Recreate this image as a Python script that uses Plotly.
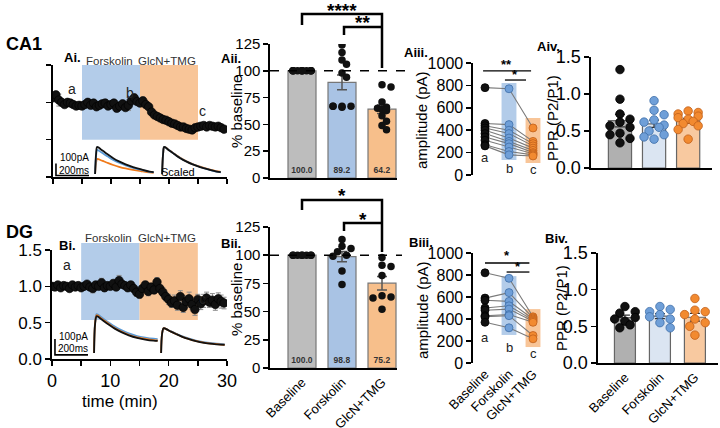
import numpy as np
import plotly.graph_objects as go

W, H = 720, 428
FONT = "Liberation Sans, Arial, sans-serif"


def X(px):
    return px / W


def Y(py):
    return 1 - py / H


# ---------------- data ----------------
conds = ["Baseline", "Forskolin", "GlcN+TMG"]
drug_names = ["Forskolin", "GlcN+TMG"]
drug_windows = [(5, 15), (15, 25)]

time_min = np.arange(0, 30, 0.5)
ai_norm = [1.06, 1.10, 1.03, 1.00, 0.97, 1.00, 0.99, 0.97, 0.95, 0.96,
           0.95, 0.97, 1.00, 0.96, 0.99, 0.94, 0.96, 0.98, 0.99, 0.95,
           0.97, 0.99, 0.92, 0.95, 0.98, 0.93, 0.96, 1.02, 1.06, 1.01,
           0.99, 1.02, 0.97, 0.94, 0.87, 0.83, 0.81, 0.79, 0.77, 0.76,
           0.74, 0.72, 0.71, 0.69, 0.67, 0.67, 0.65, 0.64, 0.63, 0.66,
           0.67, 0.68, 0.69, 0.67, 0.69, 0.68, 0.67, 0.68, 0.66, 0.64]
ai_sem = [0.03, 0.04, 0.08, 0.03, 0.03, 0.02, 0.03, 0.03, 0.02, 0.03,
          0.03, 0.02, 0.04, 0.03, 0.03, 0.02, 0.03, 0.04, 0.05, 0.03,
          0.03, 0.03, 0.04, 0.03, 0.03, 0.04, 0.07, 0.03, 0.05, 0.04,
          0.03, 0.05, 0.04, 0.03, 0.03, 0.03, 0.02, 0.03, 0.03, 0.02,
          0.03, 0.02, 0.03, 0.03, 0.02, 0.03, 0.02, 0.03, 0.03, 0.02,
          0.03, 0.02, 0.03, 0.02, 0.03, 0.03, 0.02, 0.03, 0.03, 0.03]
bi_norm = [1.00, 0.99, 1.02, 0.98, 1.01, 1.00, 0.97, 1.02, 0.99, 1.01,
           0.98, 1.00, 1.03, 0.99, 0.97, 1.02, 1.00, 1.05, 0.98, 1.01,
           1.00, 1.04, 0.99, 1.08, 1.03, 1.01, 0.98, 1.02, 0.97, 0.92,
           0.89, 0.97, 1.02, 0.93, 0.99, 0.95, 1.06, 0.97, 0.92, 0.86,
           0.82, 0.77, 0.80, 0.74, 0.86, 0.71, 0.79, 0.83, 0.75, 0.68,
           0.82, 0.76, 0.80, 0.84, 0.78, 0.81, 0.75, 0.83, 0.79, 0.77]
bi_sem = [0.02, 0.02, 0.03, 0.02, 0.03, 0.02, 0.03, 0.04, 0.02, 0.03,
          0.03, 0.04, 0.03, 0.03, 0.06, 0.04, 0.03, 0.06, 0.05, 0.04,
          0.03, 0.05, 0.04, 0.07, 0.05, 0.04, 0.05, 0.04, 0.05, 0.06,
          0.05, 0.04, 0.05, 0.06, 0.05, 0.05, 0.06, 0.05, 0.06, 0.06,
          0.07, 0.06, 0.08, 0.07, 0.08, 0.07, 0.08, 0.09, 0.07, 0.08,
          0.07, 0.08, 0.09, 0.08, 0.07, 0.09, 0.08, 0.08, 0.09, 0.08]

# example EPSC traces (ms, pA)
ai_trace_t = [0, 6, 12, 20, 35, 55, 80, 110, 145, 185, 230, 280, 330, 355]
ai_trace_base = [0, 170, 225, 222, 205, 185, 160, 132, 105, 80, 58, 38, 20, 15]
ai_trace_forsk = [0, 150, 200, 197, 183, 165, 143, 118, 94, 72, 52, 34, 18, 13]
ai_trace_glcn = [0, 95, 125, 124, 115, 104, 90, 75, 60, 46, 34, 23, 13, 10]
ai_scaled_peak = 225

bi_trace_t = [0, 6, 15, 25, 40, 60, 90, 125, 165, 210, 260, 310, 360, 385]
bi_trace_base = [0, 180, 230, 226, 214, 198, 176, 152, 130, 110, 94, 84, 77, 75]
bi_trace_forsk = [0, 190, 243, 239, 227, 211, 189, 165, 143, 122, 106, 96, 89, 87]
bi_trace_glcn = [0, 185, 236, 232, 219, 203, 181, 156, 134, 114, 98, 88, 80, 78]
bi_scaled_peak = 155

scale_bar_pA = 100
scale_bar_ms = 200

# % baseline
aii_pts = [[100, 100, 100, 100, 100, 100, 100, 100, 100, 100, 100],
           [124, 117, 110, 106, 98, 94, 67, 67, 67, 67, 66],
           [87, 85, 71, 66, 65, 64, 63, 58, 53, 49, 45]]
aii_mean = [100.0, 89.2, 64.2]
bii_pts = [[100, 100, 100, 100, 100, 100, 100, 100],
           [114, 108, 106, 103, 100, 99, 86, 74],
           [98, 91, 90, 82, 64, 63, 62, 52]]
bii_mean = [100.0, 98.8, 75.2]

# amplitude (pA), paired cells
aiii_amp = [[780, 460, 440, 420, 400, 370, 340, 310, 270, 260],
            [770, 450, 400, 370, 330, 300, 280, 250, 210, 180],
            [420, 300, 280, 260, 240, 220, 200, 190, 180, 170]]
biii_amp = [[820, 590, 570, 500, 480, 430, 420, 370],
            [770, 640, 560, 520, 490, 440, 430, 320],
            [420, 410, 400, 390, 380, 370, 250, 220]]

# PPR
aiv_ppr = [[1.33, 0.93, 0.73, 0.66, 0.62, 0.57, 0.55, 0.47, 0.45, 0.40, 0.34],
           [0.91, 0.78, 0.72, 0.65, 0.62, 0.58, 0.55, 0.50, 0.45, 0.42, 0.39],
           [0.77, 0.75, 0.73, 0.70, 0.68, 0.66, 0.63, 0.60, 0.57, 0.52, 0.39]]
biv_ppr = [[0.77, 0.70, 0.68, 0.62, 0.60, 0.57, 0.52, 0.48],
           [0.77, 0.73, 0.70, 0.66, 0.63, 0.60, 0.55, 0.48],
           [0.88, 0.72, 0.70, 0.66, 0.60, 0.55, 0.50, 0.38]]

# ---------------- styles ----------------
BLUE_BG = "#b3cce9"
ORANGE_BG = "#f8c598"
BAR2 = ["#bdbdbd", "#a9c3e4", "#f7bf8b"]
BAR4 = ["#b0b0b0", "#dbe5f2", "#f8c9a0"]
DOT_FILL = ["#111111", "#6f9fd8", "#f28a30"]
DOT_EDGE = ["#000000", "#3f6fa8", "#c0601a"]
TR_COL = ["#111111", "#5a9ad6", "#f07a1a"]


def sem(v):
    v = np.asarray(v, float)
    return float(np.std(v, ddof=1) / np.sqrt(len(v)))


def swarm(vals, px_per_unit, px_per_cat, dot, step, maxoff):
    cands = [0.0]
    k = 1
    while k * step <= maxoff + 1e-9:
        cands += [k * step, -k * step]
        k += 1
    placed = []
    offs = [0.0] * len(vals)
    for i in np.argsort(vals)[::-1]:
        yy = vals[i] * px_per_unit
        ch = None
        for c in cands:
            if all((c - px) ** 2 + (yy - py) ** 2 >= dot ** 2 for px, py in placed):
                ch = c
                break
        if ch is None:
            ch = cands[len(placed) % len(cands)]
        placed.append((ch, yy))
        offs[i] = ch / px_per_cat
    return offs


fig = go.Figure()

# ---------- Ai / Bi time courses ----------
for k, (vals, err) in enumerate([(ai_norm, ai_sem), (bi_norm, bi_sem)]):
    xa = "x" if k == 0 else "x2"
    ya = "y" if k == 0 else "y2"
    fig.add_trace(go.Scatter(
        x=time_min, y=vals, mode="markers", xaxis=xa, yaxis=ya,
        marker=dict(size=8.5, color="#111", line=dict(color="#000", width=0.6)),
        error_y=dict(type="data", array=err, color="#8c8c8c", thickness=1, width=2.5),
        showlegend=False, hoverinfo="skip"))

# insets with example traces
for k, (tt, tr, off2, speak) in enumerate([
        (ai_trace_t, [ai_trace_base, ai_trace_forsk, ai_trace_glcn], 661, ai_scaled_peak),
        (bi_trace_t, [bi_trace_base, bi_trace_forsk, bi_trace_glcn], 661, bi_scaled_peak)]):
    xa = "x9" if k == 0 else "x10"
    ya = "y9" if k == 0 else "y10"
    order = [2, 1, 0] if k == 0 else [1, 2, 0]
    t1 = [255 + t for t in tt]
    t2 = [off2 + t for t in tt]
    for j in order:
        fig.add_trace(go.Scatter(x=t1, y=tr[j], mode="lines", xaxis=xa, yaxis=ya,
                                 line=dict(color=TR_COL[j], width=1.8, shape="spline"),
                                 showlegend=False, hoverinfo="skip"))
    for j in order:
        pk = max(tr[j])
        fig.add_trace(go.Scatter(x=t2, y=[v * speak / pk for v in tr[j]], mode="lines",
                                 xaxis=xa, yaxis=ya,
                                 line=dict(color=TR_COL[j], width=1.8, shape="spline"),
                                 showlegend=False, hoverinfo="skip"))
    # scale bar
    fig.add_trace(go.Scatter(x=[18, 18, 18 + scale_bar_ms], y=[scale_bar_pA - 12, -12, -12],
                             mode="lines", xaxis=xa, yaxis=ya,
                             line=dict(color="black", width=1.6),
                             showlegend=False, hoverinfo="skip"))

# ---------- Aii / Bii bars ----------
for k, (pts, means) in enumerate([(aii_pts, aii_mean), (bii_pts, bii_mean)]):
    xa = "x3" if k == 0 else "x4"
    ya = "y3" if k == 0 else "y4"
    errs = [sem(p) if i > 0 else 0 for i, p in enumerate(pts)]
    fig.add_trace(go.Bar(
        x=[0, 1, 2], y=means, width=0.7, xaxis=xa, yaxis=ya,
        marker=dict(color=BAR2, line=dict(color="#777", width=1.2)),
        error_y=dict(type="data", array=errs, color="#555", thickness=1.5, width=5),
        texttemplate="<b>%{y:.1f}</b>", textposition="inside", insidetextanchor="start",
        textangle=0, textfont=dict(family=FONT, size=8.5, color="#333"),
        showlegend=False, hoverinfo="skip"))
    ppu = 134 / 125 if k == 0 else 141 / 125
    for i, p in enumerate(pts):
        offs = swarm(p, ppu, 40, 6.0, 4.5, 12)
        fig.add_trace(go.Scatter(
            x=[i + o for o in offs], y=p, mode="markers", xaxis=xa, yaxis=ya,
            marker=dict(size=7.5, color="#111"), showlegend=False, hoverinfo="skip"))

# ---------- Aiii / Biii paired amplitudes ----------
for k, amp in enumerate([aiii_amp, biii_amp]):
    xa = "x5" if k == 0 else "x6"
    ya = "y5" if k == 0 else "y6"
    lx, ly = [], []
    for c in range(len(amp[0])):
        lx += [0, 1, 2, None]
        ly += [amp[0][c], amp[1][c], amp[2][c], None]
    fig.add_trace(go.Scatter(x=lx, y=ly, mode="lines", xaxis=xa, yaxis=ya,
                             line=dict(color="#7a7a7a", width=1.1),
                             showlegend=False, hoverinfo="skip"))
    for i in range(3):
        fig.add_trace(go.Scatter(
            x=[i] * len(amp[i]), y=amp[i], mode="markers", xaxis=xa, yaxis=ya,
            marker=dict(size=8, color=DOT_FILL[i], line=dict(color=DOT_EDGE[i], width=0.8)),
            showlegend=False, hoverinfo="skip"))

# ---------- Aiv / Biv PPR ----------
for k, ppr in enumerate([aiv_ppr, biv_ppr]):
    xa = "x7" if k == 0 else "x8"
    ya = "y7" if k == 0 else "y8"
    means = [float(np.mean(p)) for p in ppr]
    errs = [sem(p) for p in ppr]
    fig.add_trace(go.Bar(
        x=[0, 1, 2], y=means, width=0.68 if k == 0 else 0.6, xaxis=xa, yaxis=ya,
        marker=dict(color=BAR4, line=dict(color="#666", width=1.2)),
        error_y=dict(type="data", array=errs, color="#333", thickness=1.3, width=5),
        showlegend=False, hoverinfo="skip"))
    ppu = 111 / 1.5 if k == 0 else 110 / 1.5
    for i, p in enumerate(ppr):
        offs = swarm(p, ppu, 34, 8.0, 5.0, 11)
        fig.add_trace(go.Scatter(
            x=[i + o for o in offs], y=p, mode="markers", xaxis=xa, yaxis=ya,
            marker=dict(size=8.5, color=DOT_FILL[i], line=dict(color=DOT_EDGE[i], width=0.8)),
            showlegend=False, hoverinfo="skip"))

# ---------------- axes ----------------


def ax(**kw):
    d = dict(showline=True, linecolor="black", linewidth=1.6, ticks="outside", ticklen=5,
             tickwidth=1.5, tickcolor="black", showgrid=False, zeroline=False,
             tickfont=dict(family=FONT, size=16, color="black"), fixedrange=True,
             automargin=False)
    d.update(kw)
    return d


def hid(**kw):
    d = dict(visible=False, fixedrange=True, automargin=False)
    d.update(kw)
    return d


tvals = list(range(0, 31, 5))
layout_axes = dict(
    xaxis=ax(domain=[X(53), X(227)], range=[0, 30], anchor="y", tickvals=tvals,
             showticklabels=False),
    yaxis=ax(domain=[Y(177), Y(65)], range=[0, 1.5], anchor="x",
             tickvals=[0, 0.5, 1, 1.5], showticklabels=False),
    xaxis2=ax(domain=[X(52), X(227)], range=[0, 30], anchor="y2", tickvals=tvals,
              ticktext=["0", "", "10", "", "20", "", "30"], tickfont=dict(family=FONT, size=18)),
    yaxis2=ax(domain=[Y(359), Y(250)], range=[0, 1.5], anchor="x2",
              tickvals=[0, 0.5, 1, 1.5], ticktext=["0.0", "0.5", "1.0", "1.5"],
              tickfont=dict(family=FONT, size=17)),
    xaxis3=ax(domain=[X(270), X(397)], range=[-0.8, 2.375], anchor="y3",
              showticklabels=False, ticks=""),
    yaxis3=ax(domain=[Y(178), Y(44)], range=[0, 125], anchor="x3",
              tickvals=[0, 25, 50, 75, 100, 125], tickfont=dict(family=FONT, size=15)),
    xaxis4=ax(domain=[X(270), X(397)], range=[-0.8, 2.375], anchor="y4",
              tickvals=[0, 1, 2], ticktext=conds, tickangle=-45, ticks="",
              tickfont=dict(family=FONT, size=13)),
    yaxis4=ax(domain=[Y(368), Y(227)], range=[0, 125], anchor="x4",
              tickvals=[0, 25, 50, 75, 100, 125], tickfont=dict(family=FONT, size=15)),
    xaxis5=ax(domain=[X(473), X(545)], range=[-0.5, 2.5], anchor="y5",
              showline=False, ticks="", showticklabels=False),
    yaxis5=ax(domain=[Y(175), Y(63)], range=[0, 1000], anchor="x5", dtick=200,
              tickfont=dict(family=FONT, size=16)),
    xaxis6=ax(domain=[X(473), X(545)], range=[-0.5, 2.5], anchor="y6",
              showline=False, ticks="", tickvals=[0, 1, 2], ticktext=conds, tickangle=-45,
              tickfont=dict(family=FONT, size=13)),
    yaxis6=ax(domain=[Y(363), Y(253)], range=[0, 1000], anchor="x6", dtick=200,
              tickfont=dict(family=FONT, size=16)),
    xaxis7=ax(domain=[X(591), X(712)], range=[-0.85, 2.7], anchor="y7",
              showticklabels=False, ticks=""),
    yaxis7=ax(domain=[Y(168), Y(57)], range=[0, 1.5], anchor="x7",
              tickvals=[0, 0.5, 1, 1.5], ticktext=["0.0", "0.5", "1.0", "1.5"],
              tickfont=dict(family=FONT, size=18)),
    xaxis8=ax(domain=[X(598), X(718)], range=[-0.77, 2.66], anchor="y8",
              tickvals=[0, 1, 2], ticktext=conds, tickangle=-45, ticks="",
              tickfont=dict(family=FONT, size=13)),
    yaxis8=ax(domain=[Y(363), Y(253)], range=[0, 1.5], anchor="x8",
              tickvals=[0, 0.5, 1, 1.5], ticktext=["0.0", "0.5", "1.0", "1.5"],
              tickfont=dict(family=FONT, size=18)),
    xaxis9=hid(domain=[X(53), X(227)], range=[0, 1054], anchor="y9"),
    yaxis9=hid(domain=[Y(180), Y(130)], range=[-50, 367], anchor="x9"),
    xaxis10=hid(domain=[X(52), X(227)], range=[0, 1060], anchor="y10"),
    yaxis10=hid(domain=[Y(360), Y(292)], range=[-44, 381], anchor="x10"),
)

# ---------------- shapes ----------------
shapes = []
for k in range(2):
    xr = "x" if k == 0 else "x2"
    for (t0, t1), col in zip(drug_windows, [BLUE_BG, ORANGE_BG]):
        if k == 0:
            shapes.append(dict(type="rect", xref=xr, yref="y", x0=t0, x1=t1, y0=0.5, y1=1.5,
                               fillcolor=col, line=dict(width=0), layer="below"))
        else:
            shapes.append(dict(type="rect", xref=xr, yref="paper", x0=t0, x1=t1,
                               y0=Y(320), y1=Y(243),
                               fillcolor=col, line=dict(width=0), layer="below"))

# dashed 100% lines
shapes.append(dict(type="line", xref="paper", yref="y3", x0=X(270), x1=X(407), y0=100, y1=100,
                   line=dict(color="black", width=1.6, dash="dash")))
shapes.append(dict(type="line", xref="paper", yref="y4", x0=X(270), x1=X(402), y0=100, y1=100,
                   line=dict(color="black", width=1.6, dash="dash")))


def bracket(xref, xa, xb, ytop, yl, yr):
    return dict(type="path", xref=xref, yref="paper",
                path=f"M {xa},{Y(yl)} L {xa},{Y(ytop)} L {xb},{Y(ytop)} L {xb},{Y(yr)}",
                line=dict(color="black", width=2.5))


shapes += [bracket("x3", 0, 2, 14, 25, 68), bracket("x3", 1.05, 2, 27, 35, 27),
           bracket("x4", 0, 2, 200, 210, 252), bracket("x4", 1.05, 2, 223, 231, 223)]

# significance lines in Aiii / Biii
for xr, yr, segs in [("x5", "y5", [(-0.08, 1.92, 929), (0.83, 1.71, 848)]),
                     ("x6", "y6", [(0.0, 1.85, 909), (0.9, 1.85, 827)])]:
    for a, b, yv in segs:
        shapes.append(dict(type="line", xref=xr, yref=yr, x0=a, x1=b, y0=yv, y1=yv,
                           line=dict(color="black", width=1.3)))

# shaded boxes in Aiii / Biii
for xr, yr, boxes in [("x5", "y5", [(1, 134, 821, BLUE_BG), (2, 107, 509, ORANGE_BG)]),
                      ("x6", "y6", [(1, 255, 790, BLUE_BG), (2, 145, 490, ORANGE_BG)])]:
    for c, y0, y1, col in boxes:
        shapes.append(dict(type="rect", xref=xr, yref=yr, x0=c - 0.31, x1=c + 0.31, y0=y0, y1=y1,
                           fillcolor=col, line=dict(width=0), layer="below"))

# ---------------- annotations ----------------


def ann(text, x, y, size=12, bold=False, xref="paper", yref="paper", xanchor="center",
        yanchor="middle", angle=0, color="black"):
    return dict(text=f"<b>{text}</b>" if bold else text, x=x, y=y, xref=xref, yref=yref,
                xanchor=xanchor, yanchor=yanchor, showarrow=False, textangle=angle,
                font=dict(family=FONT, size=size, color=color))


anns = [
    ann("CA1", X(4), Y(44), 18, True, xanchor="left"),
    ann("DG", X(4), Y(232), 18, True, xanchor="left"),
    ann("Ai.", X(62), Y(58), 13, True, xanchor="left"),
    ann("Bi.", X(57), Y(245), 13, True, xanchor="left"),
    ann("Aii.", X(219), Y(59), 13, True, xanchor="left"),
    ann("Bii.", X(219), Y(244), 13, True, xanchor="left"),
    ann("Aiii.", X(402), Y(52), 13, True, xanchor="left"),
    ann("Biii.", X(407), Y(242), 13, True, xanchor="left"),
    ann("Aiv.", X(535), Y(47), 13, True, xanchor="left"),
    ann("Biv.", X(543), Y(238), 13, True, xanchor="left"),
    ann("time (min)", X(120), Y(401), 17),
    ann("% baseline", X(236), Y(112), 15, angle=-90),
    ann("% baseline", X(236), Y(300), 15, angle=-90),
    ann("amplitude (pA)", X(421), Y(120), 15, angle=-90),
    ann("amplitude (pA)", X(422), Y(310), 15, angle=-90),
    ann("PPR (P2/P1)", X(553), Y(118), 15, angle=-90),
    ann("PPR (P2/P1)", X(561), Y(308), 15, angle=-90),
    # stars
    ann("****", 1.0, Y(11), 19, True, xref="x3"),
    ann("**", 1.52, Y(23), 19, True, xref="x3"),
    ann("*", 1.0, Y(196), 19, True, xref="x4"),
    ann("*", 1.52, Y(219), 19, True, xref="x4"),
    ann("**", 0.9, 985, 13, True, xref="x5", yref="y5"),
    ann("*", 1.27, 895, 13, True, xref="x5", yref="y5"),
    ann("*", 0.93, 975, 13, True, xref="x6", yref="y6"),
    ann("*", 1.38, 880, 13, True, xref="x6", yref="y6"),
    # scale bar labels / scaled
    ann("100pA", 130, 135, 10, xref="x9", yref="y9"),
    ann("200ms", 130, 30, 10, xref="x9", yref="y9"),
    ann("Scaled", 760, 15, 11, xref="x9", yref="y9"),
    ann("100pA", 130, 100, 10, xref="x10", yref="y10"),
    ann("200ms", 130, 25, 10, xref="x10", yref="y10"),
]
for k, xr in enumerate(["x", "x2"]):
    for (t0, t1), nm in zip(drug_windows, drug_names):
        anns.append(ann(nm, (t0 + t1) / 2 - 0.3, Y(61) if k == 0 else Y(238), 11.5,
                        xref=xr, color="#333"))
# a/b/c letters
for xr, yr, pos in [("x", "y", [(3.3, 1.18), (13.2, 1.13), (25.8, 0.88)]),
                    ("x2", "y2", [(2.6, 1.30), (13.7, 1.55), (25.8, 0.82)]),
                    ("x5", "y5", [(0, 160), (1, 60), (2, 45)]),
                    ("x6", "y6", [(0, 236), (1, 145), (2, 82)])]:
    for (xx, yy), letter in zip(pos, ["a", "b", "c"]):
        anns.append(ann(letter, xx, yy, 14 if xr in ("x", "x2") else 13, xref=xr, yref=yr,
                        color="#222"))

fig.update_layout(
    width=W, height=H, margin=dict(l=0, r=0, t=0, b=0, autoexpand=False), autosize=False,
    paper_bgcolor="white", plot_bgcolor="rgba(0,0,0,0)", showlegend=False,
    font=dict(family=FONT, color="black"), barmode="overlay",
    shapes=shapes, annotations=anns, **layout_axes)

fig.write_html(
    "out.html",
    config={"displayModeBar": False, "staticPlot": True},
    post_script="document.body.style.margin='0px';document.body.style.padding='0px';"
                "document.body.style.overflow='hidden';")
